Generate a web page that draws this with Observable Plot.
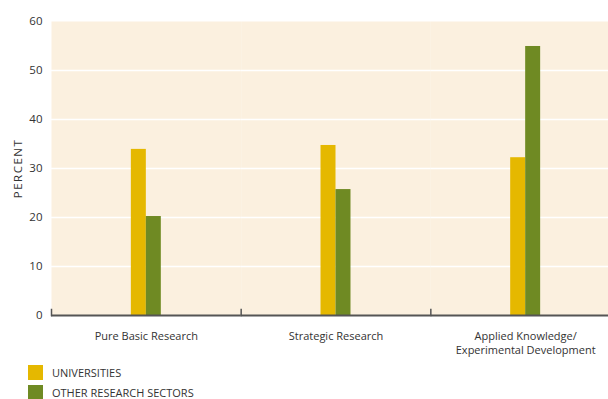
<!DOCTYPE html>
<html>
<head>
<meta charset="utf-8">
<script src="https://cdn.jsdelivr.net/npm/d3@7"></script>
<script src="https://cdn.jsdelivr.net/npm/@observablehq/plot@0.6"></script>
<style>
  html, body { margin: 0; padding: 0; background: #fff; overflow: hidden; width: 608px; }
  #chart { width: 608px; overflow: hidden; }
  #chart svg { display: block; max-width: none !important; width: 620px; height: 360px; }
  #chart [aria-label="y-axis label"] text { letter-spacing: 1.5px; }
  .legend { font-family: "Open Sans", sans-serif; font-size: 11px; color: #333; margin-top: 5px; }
  .legend .item { display: flex; align-items: center; height: 15px; margin-bottom: 5px; margin-left: 28px; }
  .legend .sw { width: 15px; height: 15px; margin-right: 9px; }
</style>
</head>
<body>
<div id="chart"></div>
<div class="legend" id="legend"></div>
<script>
const categories = ["Pure Basic Research", "Strategic Research", "Applied Knowledge/\nExperimental Development"];
const series = ["UNIVERSITIES", "OTHER RESEARCH SECTORS"];
const colors = ["#E5B800", "#6F8A23"];
const universities = [33.9, 34.7, 32.2];
const otherSectors = [20.2, 25.7, 54.9];
const yTicks = [0, 10, 20, 30, 40, 50, 60];
const gridLines = [10, 20, 30, 40, 50];

const data = [];
categories.forEach((c, i) => {
  data.push({category: c, series: series[0], value: universities[i]});
  data.push({category: c, series: series[1], value: otherSectors[i]});
});

const font = "'Open Sans', sans-serif";
const chart = Plot.plot({
  width: 620,
  height: 360,
  marginLeft: 51,
  marginRight: 0,
  marginTop: 21,
  marginBottom: 45,
  style: {fontFamily: font, fontSize: "11px", color: "#333", background: "#fff"},
  fx: {domain: categories, padding: 0, round: false},
  x: {domain: series, paddingInner: 0, paddingOuter: 5.33, axis: null, round: false},
  y: {domain: [0, 60]},
  color: {domain: series, range: colors},
  marks: [
    Plot.frame({fill: "#FBF0DF", stroke: null}),
    Plot.ruleY(gridLines, {stroke: "#fff", strokeWidth: 1.5}),
    Plot.barY(data, {fx: "category", x: "series", y: "value", fill: "series", inset: 0}),
    Plot.ruleY([0], {stroke: "#555", strokeWidth: 2}),
    Plot.frame({anchor: "left", stroke: "#555", strokeWidth: 1.5, insetTop: 288}),
    Plot.axisY({ticks: yTicks, tickSize: 0, tickPadding: 9, label: "PERCENT", labelAnchor: "center", labelArrow: "none", labelOffset: 38, fontSize: 11.5}),
    Plot.axisFx({anchor: "bottom", tickSize: 0, tickPadding: 14, label: null, lineHeight: 1.3, fontSize: 11})
  ]
});
document.getElementById("chart").appendChild(chart);

const legend = document.getElementById("legend");
series.forEach((s, i) => {
  const item = document.createElement("div");
  item.className = "item";
  const sw = document.createElement("div");
  sw.className = "sw";
  sw.style.background = colors[i];
  const t = document.createElement("span");
  t.textContent = s;
  item.appendChild(sw);
  item.appendChild(t);
  legend.appendChild(item);
});
</script>
</body>
</html>
